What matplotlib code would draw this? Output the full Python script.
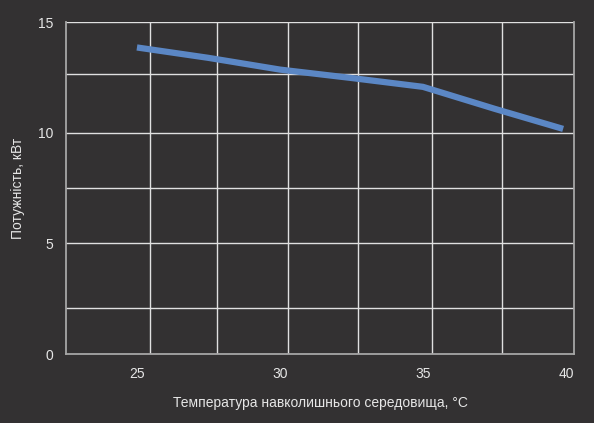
import matplotlib
matplotlib.use("Agg")
import matplotlib.pyplot as plt
import numpy as np

# data
temperature = [25, 27.5, 30, 32.5, 35, 37.5, 39.9]
power = [13.85, 13.38, 12.85, 12.47, 12.07, 11.08, 10.17]

x_ticks = [25, 30, 35, 40]
y_ticks = [0, 5, 10, 15]

# extra grid lines that sit between the labelled ticks
x_grid = [25.45, 27.8, 30.28, 32.73, 35.31, 37.76]
y_grid = [2.08, 7.5, 12.65]

bg = "#333132"
text_col = "#e6e6e6"

plt.rcParams["font.family"] = ["Liberation Sans", "DejaVu Sans"]

fig = plt.figure(figsize=(5.94, 4.23), dpi=100, facecolor=bg)
ax = fig.add_axes([66 / 594, 1 - 354 / 423, (574 - 66) / 594, (354 - 22) / 423])
ax.set_facecolor(bg)

ax.set_xlim(22.52, 40.28)
ax.set_ylim(0, 15)

ax.set_xticks(x_ticks)
ax.set_yticks(y_ticks)
ax.set_xticks(x_grid, minor=True)
ax.set_yticks(y_grid, minor=True)
ax.tick_params(which="both", length=0, colors=text_col, labelsize=10, pad=9)

ax.grid(False)
for v in x_grid:
    ax.axvline(v, color="#e0e0e0", lw=1.0, zorder=1)
for v in y_grid + [5, 10, 15]:
    ax.axhline(v, color="#e0e0e0", lw=1.0, zorder=1)

for side in ["left", "bottom", "right"]:
    ax.spines[side].set_color("#a6a6a6")
    ax.spines[side].set_linewidth(1.3)
ax.spines["top"].set_visible(False)

ax.plot(temperature, power, color="#5b87c5", lw=4.5, solid_capstyle="butt", zorder=3)

ax.set_xlabel("Температура навколишнього середовища, °C", color=text_col, fontsize=10, labelpad=11)
ax.set_ylabel("Потужність, кВт", color=text_col, fontsize=10)
ax.yaxis.set_label_coords(-0.08, 0.5)

fig.savefig("out.png", dpi=100, facecolor=bg)
